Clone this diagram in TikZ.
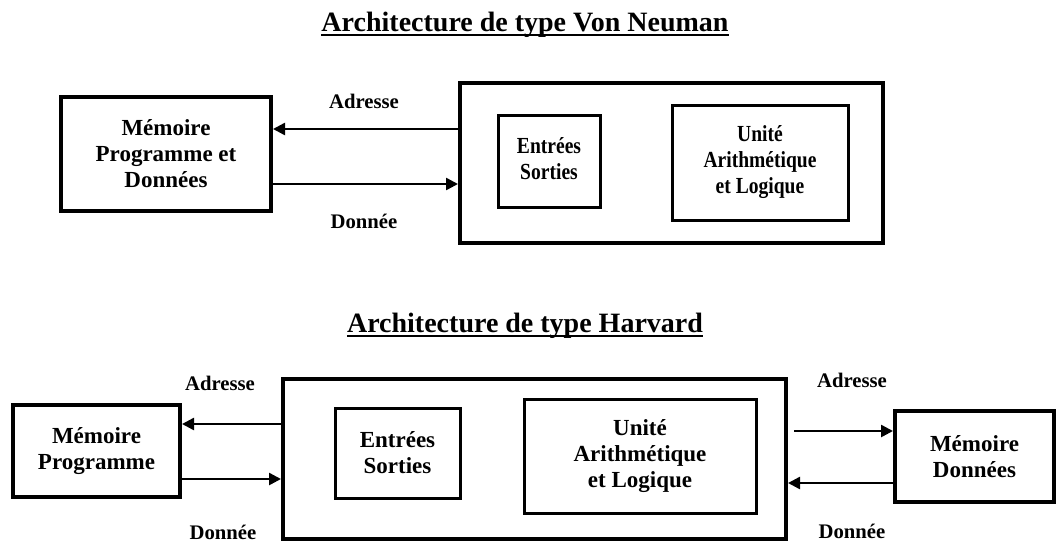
\documentclass[tikz,border=0pt]{standalone}
\usepackage{fontspec}
\usepackage{graphicx}
\setmainfont{Liberation Serif}
\usetikzlibrary{arrows.meta}
\newcommand\dgtitlefont{\fontsize{28}{30}\selectfont\bfseries}
\newcommand\dgboxfont{\fontsize{23}{26}\selectfont\bfseries}
\newcommand\dglabelfont{\fontsize{20.7}{22}\selectfont\bfseries}
% condensed multi-line text for the upper processor block
\newcommand\dgnarrow[1]{\scalebox{0.85}[1]{\begin{tabular}{@{}c@{}}#1\end{tabular}}}
\begin{document}
\begin{tikzpicture}[x=1pt,y=-1pt,
  outerbox/.style={draw, line width=4pt, inner sep=0pt, align=center, font=\dgboxfont},
  innerbox/.style={draw, line width=3pt, inner sep=0pt, align=center, font=\dgboxfont},
  link/.style={line width=2.5pt, -{Triangle[length=12pt,width=12pt]}},
  lbl/.style={font=\dglabelfont, anchor=base, inner sep=0pt},
  heading/.style={font=\dgtitlefont, anchor=base, inner sep=0pt},
  rule/.style={line width=2.5pt}]
\useasboundingbox (0,0) rectangle (1057,542);

% ---------- Von Neumann ----------
\node[heading] (t1) at (525,31) {Architecture de type Von Neuman};
\draw[rule] ([yshift=-4pt]t1.base west) -- ([yshift=-4pt]t1.base east);

\node[outerbox, minimum width=210pt, minimum height=114pt] (vmem) at (166,154)
  {Mémoire\\Programme et\\Données};
\node[outerbox, minimum width=423pt, minimum height=160pt] (vcpu) at (671.5,163) {};
\node[innerbox, minimum width=102pt, minimum height=92pt] (vio) at (549,161)
  {\dgnarrow{Entrées\\Sorties}};
\node[innerbox, minimum width=176pt, minimum height=115pt] (valu) at (760,162.5)
  {\dgnarrow{Unité\\Arithmétique\\et Logique}};

\draw[link] (vcpu.west |- 0,129) -- (vmem.east |- 0,129);
\draw[link] (vmem.east |- 0,184) -- (vcpu.west |- 0,184);
\node[lbl] (va) at (364,108) {Adresse};
\node[lbl] (vd) at (364,228) {Donnée};

% ---------- Harvard ----------
\node[heading] (t2) at (525,332) {Architecture de type Harvard};
\draw[rule] ([yshift=-4pt]t2.base west) -- ([yshift=-4pt]t2.base east);

\node[outerbox, minimum width=167pt, minimum height=92pt] (hprog) at (96.5,451)
  {Mémoire\\Programme};
\node[outerbox, minimum width=503pt, minimum height=160pt] (hcpu) at (534.5,459) {};
\node[innerbox, minimum width=125pt, minimum height=90pt] (hio) at (397.5,453)
  {Entrées\\Sorties};
\node[innerbox, minimum width=232pt, minimum height=114pt] (halu) at (640,456)
  {Unité\\Arithmétique\\et Logique};
\node[outerbox, minimum width=159pt, minimum height=91pt] (hdata) at (974.5,456.5)
  {Mémoire\\Données};

\draw[link] (hcpu.west |- 0,424) -- (hprog.east |- 0,424);
\draw[link] (hprog.east |- 0,479) -- (hcpu.west |- 0,479);
\draw[link] ([xshift=6pt]hcpu.east |- 0,431) -- (hdata.west |- 0,431);
\draw[link] (hdata.west |- 0,483) -- (hcpu.east |- 0,483);

\node[lbl] (ha1) at (220,390) {Adresse};
\node[lbl] (hd1) at (223,539) {Donnée};
\node[lbl] (ha2) at (852,387) {Adresse};
\node[lbl] (hd2) at (852,538) {Donnée};
\end{tikzpicture}
\end{document}
